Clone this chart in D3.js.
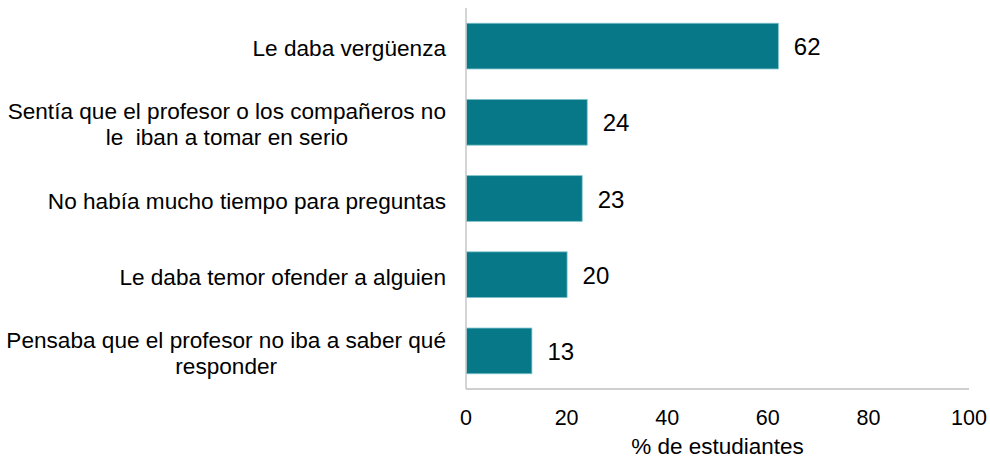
<!DOCTYPE html>
<html>
<head>
<meta charset="utf-8">
<script src="https://cdn.jsdelivr.net/npm/d3@7"></script>
<style>
  body { margin: 0; background: #fff; }
  text { font-family: "Liberation Sans", Arial, sans-serif; fill: #000; }
</style>
</head>
<body>
<script>
// reasons (each entry is the list of lines as shown)
var categories = [
  ["Le daba vergüenza"],
  ["Sentía que el profesor o los compañeros no", "le  iban a tomar en serio"],
  ["No había mucho tiempo para preguntas"],
  ["Le daba temor ofender a alguien"],
  ["Pensaba que el profesor no iba a saber qué", "responder"]
];
var values = [62, 24, 23, 20, 13];
var xTicks = [0, 20, 40, 60, 80, 100];
var axisTitle = "% de estudiantes";

var width = 990, height = 461;
var plotL = 466, plotR = 969, plotT = 8, plotB = 389;

var svg = d3.select("body").append("svg")
  .attr("width", width)
  .attr("height", height);

var x = d3.scaleLinear().domain([0, 100]).range([plotL, plotR]);
var y = d3.scaleBand().domain(d3.range(categories.length)).range([plotT, plotB]).paddingInner(0.4).paddingOuter(0.2);

// bars
svg.append("g").selectAll("rect")
  .data(values)
  .enter().append("rect")
    .attr("x", x(0) + 0.5)
    .attr("y", function(d, i) { return y(i); })
    .attr("width", function(d) { return x(d) - x(0); })
    .attr("height", y.bandwidth())
    .attr("fill", "#077888")
    .attr("stroke", "#7fc3cc")
    .attr("stroke-width", 0.8);

// value labels
svg.append("g").selectAll("text")
  .data(values)
  .enter().append("text")
    .attr("x", function(d) { return x(d) + 16; })
    .attr("y", function(d, i) { return y(i) + y.bandwidth() / 2; })
    .attr("dy", "0.38em")
    .style("font-size", "24px")
    .text(function(d) { return d; });

// axes lines
svg.append("line")
  .attr("x1", plotL).attr("x2", plotL).attr("y1", plotT).attr("y2", plotB)
  .attr("stroke", "#bfbfbf").attr("stroke-width", 1.3);
svg.append("line")
  .attr("x1", plotL).attr("x2", plotR).attr("y1", plotB).attr("y2", plotB)
  .attr("stroke", "#bfbfbf").attr("stroke-width", 1.3);

// x tick labels
svg.append("g").selectAll("text")
  .data(xTicks)
  .enter().append("text")
    .attr("x", function(d) { return x(d); })
    .attr("y", 425)
    .attr("text-anchor", "middle")
    .style("font-size", "21.5px")
    .text(function(d) { return d; });

svg.append("text")
  .attr("x", (plotL + plotR) / 2)
  .attr("y", 454)
  .attr("text-anchor", "middle")
  .style("font-size", "22.5px")
  .text(axisTitle);

// category labels: block right-aligned at 446, lines centered within block
var labelRight = 446, lineH = 26;
var cat = svg.append("g").selectAll("g")
  .data(categories)
  .enter().append("g");

cat.each(function(lines, i) {
  var g = d3.select(this);
  var cy = y(i) + y.bandwidth() / 2;
  var t = g.selectAll("text").data(lines).enter().append("text")
    .style("font-size", "22.6px")
    .attr("text-anchor", "middle")
    .attr("y", function(d, j) { return cy + (j - (lines.length - 1) / 2) * lineH; })
    .attr("dy", "0.45em")
    .style("white-space", "pre")
    .attr("xml:space", "preserve")
    .text(function(d) { return d; });
  var maxW = 0;
  t.each(function() { maxW = Math.max(maxW, this.getComputedTextLength()); });
  t.attr("x", labelRight - maxW / 2);
});
</script>
</body>
</html>
